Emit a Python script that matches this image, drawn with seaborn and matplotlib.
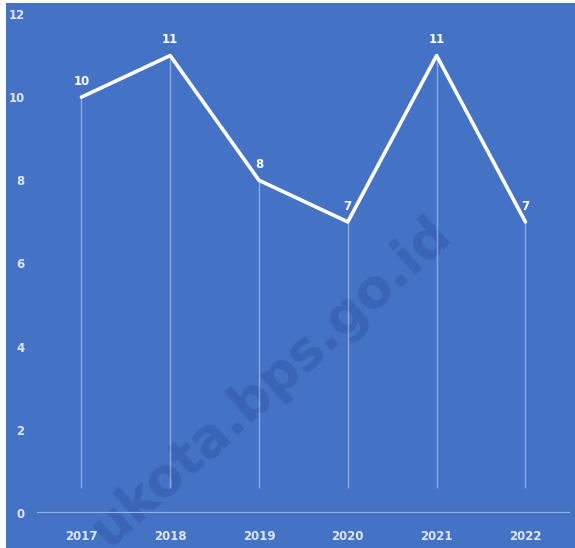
import matplotlib
matplotlib.use('Agg')
import matplotlib.pyplot as plt
import seaborn as sns
import pandas as pd
from matplotlib.patches import Rectangle

years = ['2017', '2018', '2019', '2020', '2021', '2022']
values = [10, 11, 8, 7, 11, 7]
yticks = [0, 2, 4, 6, 8, 10, 12]

bg = '#4472C4'
tick_col = '#dfe7f6'

sns.set_theme(style='white')
plt.rcParams['font.family'] = ['DejaVu Sans']

df = pd.DataFrame({'year': years, 'value': values})

fig = plt.figure(figsize=(5.75, 5.48), dpi=100, facecolor=bg)
ax = fig.add_axes([0.0643, 0.0639, 0.9267, 0.9106])
ax.set_facecolor(bg)

# white strips at the left and top edge of the image
fig.patches.append(Rectangle((0, 0), 6 / 575, 1, transform=fig.transFigure,
                             facecolor='white', edgecolor='none', zorder=0))
fig.patches.append(Rectangle((0, 1 - 3 / 548), 1, 3 / 548, transform=fig.transFigure,
                             facecolor='white', edgecolor='none', zorder=0))

# watermark, under the marks
ax.text(444 / 575, 1 - 226 / 548, 'ukota.bps.go.id', transform=fig.transFigure,
        rotation=42, rotation_mode='anchor', ha='right', va='center',
        fontsize=38, fontweight='bold', color='#3a64b6', zorder=0.5, clip_on=False)

# drop lines
ax.vlines(range(len(years)), 0.6, values, color='white', alpha=0.4, lw=1, zorder=1)

sns.lineplot(data=df, x='year', y='value', sort=False, color='white', lw=2.6, ax=ax, zorder=3)

for i, v in enumerate(values):
    ax.text(i, v + 0.22, str(v), color='white', fontsize=8.5, fontweight='bold',
            ha='center', va='bottom', zorder=4)

ax.axhline(0, color='#9bb3e0', lw=1.6, zorder=2)

ax.set_xlim(-0.5, 5.5)
ax.set_ylim(0, 12)
ax.set_yticks(yticks)
ax.set_xlabel('')
ax.set_ylabel('')
ax.tick_params(axis='both', colors=tick_col, labelsize=8.5, length=0)
ax.tick_params(axis='y', pad=9)
ax.tick_params(axis='x', pad=12)
for lab in ax.get_xticklabels() + ax.get_yticklabels():
    lab.set_fontweight('bold')
for s in ax.spines.values():
    s.set_visible(False)
ax.grid(False)

fig.savefig('out.png', dpi=100, facecolor=bg)
